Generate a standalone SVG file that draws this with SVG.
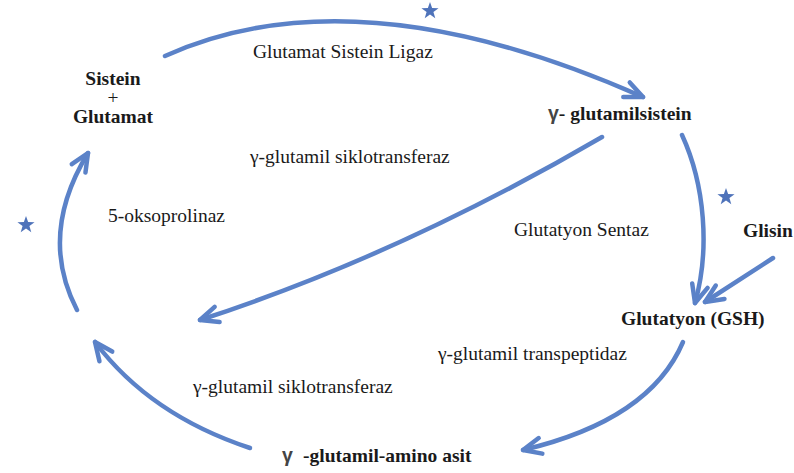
<svg xmlns="http://www.w3.org/2000/svg" width="794" height="473" viewBox="0 0 794 473">
<style>
text{font-family:'Liberation Serif','DejaVu Serif',serif;font-size:19.5px;fill:#1a1a1a}
.b{font-weight:bold}
.g{font-family:'Liberation Sans','DejaVu Sans',sans-serif;font-weight:bold;fill:#444}
.c{fill:none;stroke:#5b82c8;stroke-width:4.5;stroke-linecap:round}
.s{fill:#4f73ba}
</style>
<defs>
<marker id="ah" markerUnits="userSpaceOnUse" markerWidth="40" markerHeight="40" refX="0" refY="0" viewBox="-25 -20 40 40" orient="auto" overflow="visible">
<path d="M-18,-8 L0,0 L-18,8" fill="none" stroke="#5b82c8" stroke-width="4.5" stroke-linecap="round" stroke-linejoin="round"/>
</marker>
<path id="star" d="M0,-9 L2.12,-2.91 L8.56,-2.78 L3.42,1.11 L5.29,7.28 L0,3.6 L-5.29,7.28 L-3.42,1.11 L-8.56,-2.78 L-2.12,-2.91 Z"/>
</defs>
<rect width="794" height="473" fill="#fff"/>
<g id="connectors">
<path class="c" d="M165,56 Q356,-30 643,97" marker-end="url(#ah)"/>
<path class="c" d="M602,137 Q400,255 200,320" marker-end="url(#ah)"/>
<path class="c" d="M682,135 C705,185 710,250 695,303" marker-end="url(#ah)"/>
<path class="c" d="M773,258 L705,302" marker-end="url(#ah)"/>
<path class="c" d="M683,342 Q650,420 523,450" marker-end="url(#ah)"/>
<path class="c" d="M250,448 Q150,415 95,342" marker-end="url(#ah)"/>
<path class="c" d="M77,310 Q38,235 88,153" marker-end="url(#ah)"/>
</g>
<g id="stars">
<use href="#star" class="s" x="430" y="11"/>
<use href="#star" class="s" x="726" y="197"/>
<use href="#star" class="s" x="26" y="225"/>
</g>
<g id="node-sistein-glutamat" font-family="Liberation Serif, serif">
<text class="b" x="113" y="85" text-anchor="middle">Sistein</text>
<text x="113" y="104" text-anchor="middle">+</text>
<text class="b" x="113" y="123" text-anchor="middle">Glutamat</text>
</g>
<g id="node-glutamilsistein">
<text class="b" x="548" y="120"><tspan class="g">γ</tspan>- glutamilsistein</text>
</g>
<g id="node-glisin">
<text class="b" x="743" y="237">Glisin</text>
</g>
<g id="node-gsh">
<text class="b" x="621" y="325">Glutatyon (GSH)</text>
</g>
<g id="node-glutamil-amino-asit">
<text class="b" x="282" y="462"><tspan class="g">γ</tspan><tspan x="303">-glutamil-amino asit</tspan></text>
</g>
<g id="labels">
<text x="253" y="58">Glutamat Sistein Ligaz</text>
<text x="250" y="163">γ-glutamil siklotransferaz</text>
<text x="108" y="222">5-oksoprolinaz</text>
<text x="514" y="236">Glutatyon Sentaz</text>
<text x="438" y="360">γ-glutamil transpeptidaz</text>
<text x="193" y="393">γ-glutamil siklotransferaz</text>
</g>
</svg>
